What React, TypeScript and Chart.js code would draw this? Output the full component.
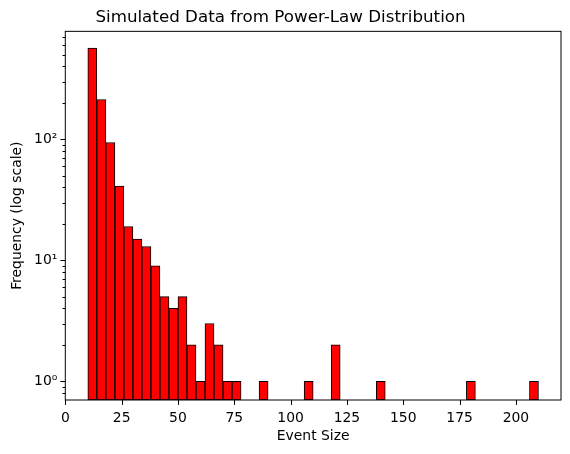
import { useEffect, useRef } from "react"
import { Chart, registerables } from "chart.js"

Chart.register(...registerables)

// Histogram bins that hold at least one event (bin width 4, from 10 to 210)
const binCenters = [12, 16, 20, 24, 28, 32, 36, 40, 44, 48, 52, 56, 60, 64, 68, 72, 76, 88, 108, 120, 140, 180, 208]
const counts = [568, 213, 94, 41, 19, 15, 13, 9, 5, 4, 5, 2, 1, 3, 2, 1, 1, 1, 1, 2, 1, 1, 1]

const xTicks = [0, 25, 50, 75, 100, 125, 150, 175, 200]
const yMajorTicks = [1, 10, 100]
const yMinorTicks = [0.8, 0.9, 2, 3, 4, 5, 6, 7, 8, 9, 20, 30, 40, 50, 60, 70, 80, 90, 200, 300, 400, 500, 600, 700]

const FONT = "'DejaVu Sans', sans-serif"
const sup: Record<string, string> = { "0": "\u2070", "1": "\u00b9", "2": "\u00b2", "3": "\u00b3" }

const isMajor = (v: number) => yMajorTicks.includes(v)

// frame around the axes plus matplotlib-style major/minor tick marks
const frameAndTicks = {
  id: "frameAndTicks",
  afterDatasetsDraw(chart: any) {
    const { ctx, chartArea: a, scales } = chart
    ctx.save()
    ctx.strokeStyle = "#000"
    ctx.lineWidth = 1
    ctx.beginPath()
    scales.x.ticks.forEach((t: any) => {
      const px = Math.round(scales.x.getPixelForValue(t.value)) + 0.5
      ctx.moveTo(px, a.bottom)
      ctx.lineTo(px, a.bottom + 4.9)
    })
    scales.y.ticks.forEach((t: any) => {
      const py = Math.round(scales.y.getPixelForValue(t.value)) + 0.5
      const len = isMajor(t.value) ? 4.9 : 2.8
      ctx.moveTo(a.left - len, py)
      ctx.lineTo(a.left, py)
    })
    ctx.stroke()
    ctx.strokeRect(a.left, a.top, a.right - a.left, a.bottom - a.top)
    ctx.restore()
  },
}

export default function App() {
  const canvasRef = useRef<HTMLCanvasElement>(null)

  useEffect(() => {
    if (!canvasRef.current) return
    const chart = new Chart(canvasRef.current, {
      type: "bar",
      data: {
        datasets: [
          {
            data: binCenters.map((x, i) => ({ x, y: counts[i] })),
            backgroundColor: "#ff0000",
            borderColor: "#000000",
            borderWidth: 1,
            borderSkipped: false,
            barPercentage: 1,
            categoryPercentage: 1,
          },
        ],
      },
      options: {
        animation: false,
        responsive: true,
        maintainAspectRatio: false,
        layout: { padding: { left: 0, right: 9, top: 0, bottom: 0 } },
        plugins: {
          legend: { display: false },
          tooltip: { enabled: false },
          title: {
            display: true,
            text: "Simulated Data from Power-Law Distribution",
            color: "#000",
            font: { family: FONT, size: 16.7, weight: "normal", lineHeight: 1.2 },
            padding: { top: 8, bottom: 3.3 },
          },
        },
        scales: {
          x: {
            type: "linear",
            min: 0,
            max: 220,
            offset: false,
            afterFit: (s: any) => {
              s.height = 54
            },
            afterBuildTicks: (s: any) => {
              s.ticks = xTicks.map((v) => ({ value: v }))
            },
            grid: { display: true, drawOnChartArea: false, offset: false, tickLength: 5, tickColor: "rgba(0,0,0,0)" },
            border: { display: false },
            ticks: {
              autoSkip: false,
              maxRotation: 0,
              padding: 5.5,
              color: "#000",
              font: { family: FONT, size: 13.9 },
            },
            title: {
              display: true,
              text: "Event Size",
              color: "#000",
              font: { family: FONT, size: 13.9, lineHeight: 1.2 },
              padding: { top: 0, bottom: 9 },
            },
          },
          y: {
            type: "logarithmic",
            min: 0.744,
            max: 780,
            afterFit: (s: any) => {
              s.width = 65.3
            },
            afterBuildTicks: (s: any) => {
              s.ticks = [...yMinorTicks, ...yMajorTicks].sort((a, b) => a - b).map((v) => ({ value: v }))
            },
            grid: { display: true, drawOnChartArea: false, tickLength: 5, tickColor: "rgba(0,0,0,0)" },
            border: { display: false },
            ticks: {
              autoSkip: false,
              padding: 3,
              color: "#000",
              font: { family: FONT, size: 13.9 },
              callback: (value: any) => {
                const v = Number(value)
                if (!isMajor(v)) return ""
                const exp = String(Math.round(Math.log10(v)))
                return "10" + exp.split("").map((c) => sup[c]).join("")
              },
            },
            title: {
              display: true,
              text: "Frequency (log scale)",
              color: "#000",
              font: { family: FONT, size: 13.9, lineHeight: 1.2 },
              padding: { top: 8.7, bottom: 0 },
            },
          },
        },
      },
      plugins: [frameAndTicks],
    })
    return () => chart.destroy()
  }, [])

  return (
    <div style={{ position: "fixed", left: 0, top: 0, width: 570, height: 454, background: "#fff" }}>
      <canvas ref={canvasRef}></canvas>
    </div>
  )
}
